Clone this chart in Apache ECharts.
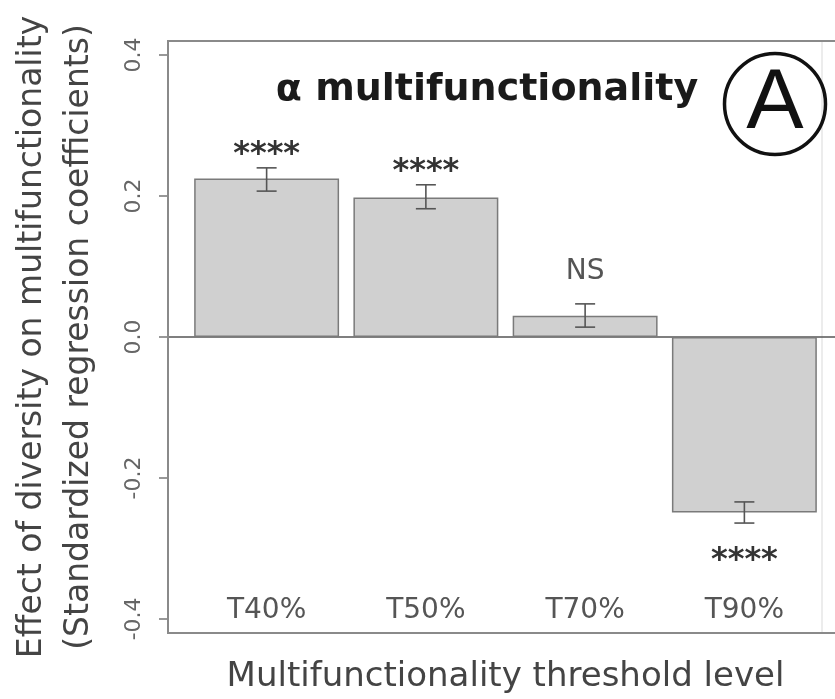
<!DOCTYPE html>
<html>
<head>
<meta charset="utf-8">
<script src="https://cdn.jsdelivr.net/npm/echarts@6/dist/echarts.min.js"></script>
<style>
  html, body { margin: 0; padding: 0; background: #fff; overflow: hidden; }
  #chart { width: 835px; height: 699px; }
</style>
</head>
<body>
<div id="chart"></div>
<script>
// Threshold levels and the standardized effect of diversity at each one
const categories = ['T40%', 'T50%', 'T70%', 'T90%'];
const effects = [0.225, 0.198, 0.030, -0.249];
const errLow = [0.207, 0.182, 0.014, -0.264];
const errHigh = [0.240, 0.216, 0.047, -0.234];
const significance = ['****', '****', 'NS', '****'];
const yTicks = [-0.4, -0.2, 0.0, 0.2, 0.4];

const FONT = 'DejaVu Sans';
const Y_MIN = -0.42, Y_MAX = 0.42;

const chart = echarts.init(document.getElementById('chart'), null, { renderer: 'canvas' });

const errorData = categories.map((c, i) => [i, errLow[i], errHigh[i], effects[i], significance[i]]);

// Error bar with caps, plus the significance mark beyond its outer end
function renderError(params, api) {
  const i = api.value(0);
  const lo = api.coord([i, api.value(1)]);
  const hi = api.coord([i, api.value(2)]);
  const x = lo[0];
  const cap = 10;
  const stroke = { stroke: '#555', lineWidth: 1.6 };
  const positive = api.value(3) >= 0;
  const label = errorData[params.dataIndex][4];
  const isStars = label === '****';
  let ty;
  if (positive) {
    ty = hi[1] - (isStars ? 13 : 32);
  } else {
    ty = lo[1] + (isStars ? 38 : 30);
  }
  return {
    type: 'group',
    children: [
      { type: 'line', shape: { x1: x, y1: lo[1], x2: x, y2: hi[1] }, style: stroke },
      { type: 'line', shape: { x1: x - cap, y1: lo[1], x2: x + cap, y2: lo[1] }, style: stroke },
      { type: 'line', shape: { x1: x - cap, y1: hi[1], x2: x + cap, y2: hi[1] }, style: stroke },
      {
        type: 'text',
        x: x, y: ty,
        style: {
          text: label,
          x: 0, y: 0,
          align: 'center',
          verticalAlign: 'middle',
          fontFamily: FONT,
          fontSize: isStars ? 32 : 28,
          fontWeight: isStars ? 'bold' : 'normal',
          fill: isStars ? '#333' : '#555'
        }
      }
    ]
  };
}

const frameStyle = { stroke: '#8a8a8a', lineWidth: 2 };

chart.setOption({
  animation: false,
  backgroundColor: '#fff',
  grid: [
    { left: 168, top: 41, width: 667, height: 592, outerBoundsMode: 'none', containLabel: false },
    { left: 187, top: 41, width: 637, height: 592, outerBoundsMode: 'none', containLabel: false }
  ],
  xAxis: [
    {
      gridIndex: 0, type: 'value', min: 0, max: 1,
      axisLine: { show: true, onZero: true, lineStyle: { color: '#555', width: 1.6 } },
      axisTick: { show: false }, axisLabel: { show: false }, splitLine: { show: false }
    },
    {
      gridIndex: 1, type: 'category', data: categories,
      axisLine: { show: false }, axisTick: { show: false }, splitLine: { show: false },
      axisLabel: { inside: true, margin: 8, fontFamily: FONT, fontSize: 28, color: '#555' },
      name: 'Multifunctionality threshold level',
      nameLocation: 'middle', nameGap: 27,
      nameTextStyle: { fontFamily: FONT, fontSize: 34, color: '#444' }
    }
  ],
  yAxis: [
    {
      gridIndex: 0, type: 'value', min: Y_MIN, max: Y_MAX,
      axisLine: { show: false },
      axisTick: { show: true, length: 9, customValues: yTicks, lineStyle: { color: '#777', width: 1.5 } },
      axisLabel: {
        customValues: yTicks, rotate: 90, margin: 23,
        fontFamily: FONT, fontSize: 22, color: '#666',
        formatter: v => Number(v).toFixed(1)
      },
      splitLine: { show: false },
      name: 'Effect of diversity on multifunctionality\n(Standardized regression coefficients)',
      nameLocation: 'middle', nameRotate: 90, nameGap: 65,
      nameTextStyle: { fontFamily: FONT, fontSize: 33, lineHeight: 47, color: '#444' }
    },
    { gridIndex: 1, type: 'value', min: Y_MIN, max: Y_MAX, show: false }
  ],
  graphic: [
    // plot frame: its right side lies past the edge of the page
    { type: 'line', shape: { x1: 168, y1: 41, x2: 835, y2: 41 }, style: frameStyle, z: 10 },
    { type: 'line', shape: { x1: 168, y1: 633, x2: 835, y2: 633 }, style: frameStyle, z: 10 },
    { type: 'line', shape: { x1: 168, y1: 40, x2: 168, y2: 634 }, style: frameStyle, z: 10 },
    { type: 'line', shape: { x1: 822, y1: 42, x2: 822, y2: 632 }, style: { stroke: '#e6e6e6', lineWidth: 1.5 }, z: 0 },
    {
      type: 'text', x: 487, y: 90,
      style: { text: 'α multifunctionality', align: 'center', verticalAlign: 'middle', fontFamily: FONT, fontWeight: 'bold', fontSize: 38, fill: '#1a1a1a' }
    },
    { type: 'circle', shape: { cx: 775, cy: 104, r: 50.5 }, style: { fill: 'none', stroke: '#111', lineWidth: 3.5 } },
    {
      type: 'text', x: 775, y: 104,
      style: { text: 'A', align: 'center', verticalAlign: 'middle', fontFamily: 'Liberation Sans', fontSize: 86, fill: '#111' }
    }
  ],
  series: [
    {
      type: 'bar', xAxisIndex: 1, yAxisIndex: 1, data: effects,
      barCategoryGap: '9%',
      itemStyle: { color: '#d0d0d0', borderColor: '#7a7a7a', borderWidth: 1.5 }
    },
    {
      type: 'custom', xAxisIndex: 1, yAxisIndex: 1, data: errorData,
      renderItem: renderError, z: 5
    }
  ]
});
</script>
</body>
</html>
